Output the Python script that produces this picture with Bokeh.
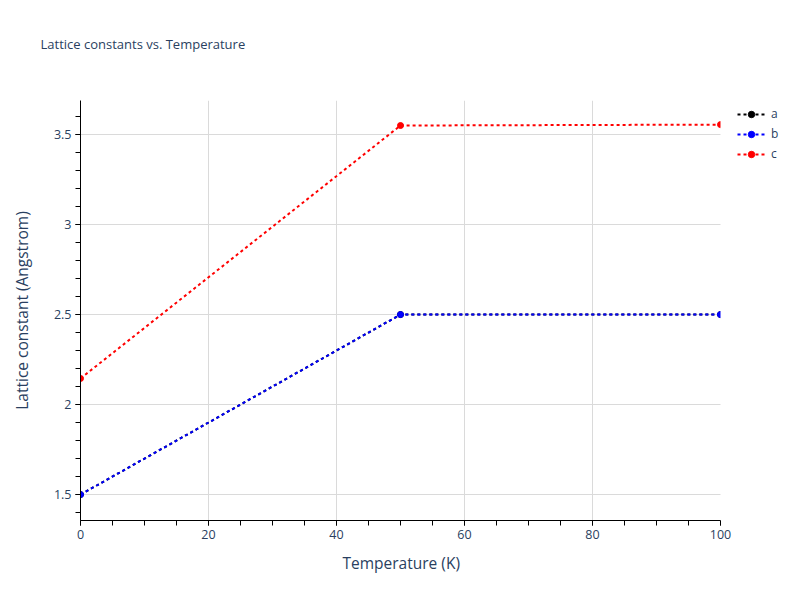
from bokeh.plotting import figure
from bokeh.models import (Range1d, SingleIntervalTicker, CustomJSTickFormatter, Legend,
                          LegendItem, ColumnDataSource, BoxAnnotation, Title)
from bokeh.embed import file_html
from bokeh.resources import INLINE

temperature = [0, 50, 100]
lat_a = [1.5, 2.5, 2.5]
lat_b = [1.5, 2.5, 2.5]
lat_c = [2.145, 3.55, 3.555]
series = [("a", lat_a, "#000000"), ("b", lat_b, "#0000ff"), ("c", lat_c, "#ff0000")]

X_MIN, X_MAX = 0, 100
Y_MIN, Y_MAX = 1.356, 3.689

TXT = "#2a3f5f"
FONT = "Open Sans"

# frame spans from x=80 to the right edge; the axis range beyond X_MAX is masked
x_end = X_MAX + (X_MAX - X_MIN) * 80 / 640
p = figure(width=800, height=600, output_backend="svg", toolbar_location=None,
           x_range=Range1d(X_MIN, x_end), y_range=Range1d(Y_MIN, Y_MAX),
           min_border_left=80, min_border_right=0, min_border_top=100, min_border_bottom=80,
           title=None)
p.outline_line_color = None
p.background_fill_color = "white"
p.border_fill_color = "white"

# empty spacer next to the frame, then the chart title above it
spacer = Title(text=" ", text_font_size="12px", standoff=30)
p.add_layout(spacer, "above")
main_title = Title(text="Lattice constants vs. Temperature", align="left", offset=-40,
                   standoff=3, text_font=FONT, text_font_size="13px",
                   text_font_style="normal", text_color=TXT)
p.add_layout(main_title, "above")

items = []
for name, ys, col in series:
    src = ColumnDataSource(dict(x=temperature, y=ys))
    ln = p.line("x", "y", source=src, line_color=col, line_width=2, line_dash="3 3")
    sc = p.scatter("x", "y", source=src, fill_color=col, line_color=col, size=6)
    items.append(LegendItem(label=name, renderers=[ln, sc]))

# mask the area right of the x-axis end (clips markers like the reference)
mask = BoxAnnotation(left=X_MAX, right=x_end, bottom=Y_MIN, top=Y_MAX,
                     fill_color="white", fill_alpha=1, line_alpha=0, level="overlay")
p.add_layout(mask)

legend = Legend(items=items, location=(657, 358), glyph_width=28, glyph_height=16,
                label_standoff=6, spacing=3, padding=0, margin=0,
                background_fill_alpha=0, border_line_color=None, level="overlay",
                label_text_font=FONT, label_text_font_size="12px", label_text_color=TXT)
p.add_layout(legend)

xa = p.xaxis[0]
xa.ticker = SingleIntervalTicker(interval=20, num_minor_ticks=4)
xa.bounds = (X_MIN, X_MAX)
ya = p.yaxis[0]
ya.ticker = SingleIntervalTicker(interval=0.5, num_minor_ticks=5)
ya.formatter = CustomJSTickFormatter(code="return tick.toString()")
xa.formatter = CustomJSTickFormatter(code="return tick.toString()")

for ax in (xa, ya):
    ax.axis_line_color = "black"
    ax.axis_line_width = 1
    ax.major_tick_line_color = "black"
    ax.minor_tick_line_color = "black"
    ax.major_tick_out = 5
    ax.major_tick_in = 0
    ax.minor_tick_out = 5
    ax.minor_tick_in = 0
    ax.major_label_text_font = FONT
    ax.major_label_text_font_size = "12.5px"
    ax.major_label_text_color = TXT
    ax.axis_label_text_font = FONT
    ax.axis_label_text_font_size = "15.5px"
    ax.axis_label_text_font_style = "normal"
    ax.axis_label_text_color = TXT
    ax.major_label_standoff = 4

ya.axis_label = "Lattice constant (Angstrom)"
ya.axis_label_standoff = 18

# x-axis title centred under the 0..100 span (the frame extends further right)
xtitle = Title(text="Temperature (K)", align="left", offset=262, standoff=16,
               text_font=FONT, text_font_size="15.5px", text_font_style="normal",
               text_color=TXT)
p.add_layout(xtitle, "below")

p.xgrid.grid_line_color = "#dadada"
p.ygrid.grid_line_color = "#dadada"
p.xgrid.grid_line_width = 1
p.ygrid.grid_line_width = 1
p.xgrid.bounds = (X_MIN, X_MAX - 1)

open("out.html", "w").write(file_html(p, INLINE))
